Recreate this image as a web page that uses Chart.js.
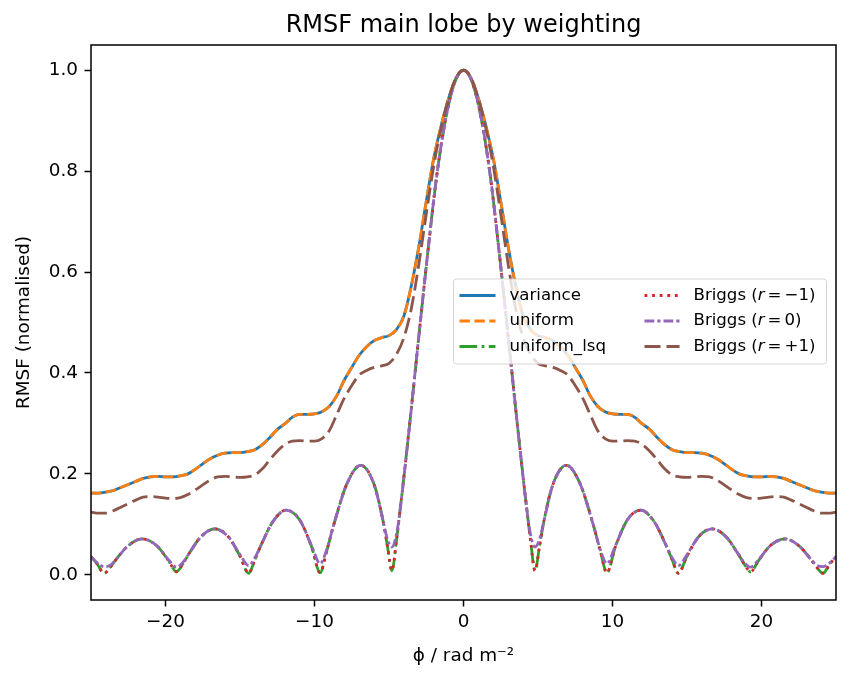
<!DOCTYPE html>
<html>
<head>
<meta charset="utf-8">
<script src="https://cdn.jsdelivr.net/npm/chart.js@4/dist/chart.umd.min.js"></script>
<style>
  html, body { margin: 0; padding: 0; background: #ffffff; }
  #wrap { width: 850px; height: 684px; }
</style>
</head>
<body>
<div id="wrap"><canvas id="c" width="850" height="684"></canvas></div>
<script>
// ---- data ----
const phiBroad = [-25,-24.5,-24,-23.5,-23,-22.5,-22,-21.5,-21,-20.5,-20,-19.5,-19,-18.5,-18,-17.5,-17,-16.5,-16,-15.5,-15,-14.5,-14,-13.5,-13,-12.5,-12,-11.5,-11,-10.5,-10,-9.5,-9,-8.5,-8,-7.5,-7,-6.5,-6,-5.5,-5,-4.5,-4,-3.5,-3,-2.5,-2,-1.5,-1,-0.5,0,0.5,1,1.5,2,2.5,3,3.5,4,4.5,5,5.5,6,6.5,7,7.5,8,8.5,9,9.5,10,10.5,11,11.5,12,12.5,13,13.5,14,14.5,15,15.5,16,16.5,17,17.5,18,18.5,19,19.5,20,20.5,21,21.5,22,22.5,23,23.5,24,24.5,25];

const varianceVals = [0.162,0.162,0.164,0.167,0.173,0.179,0.185,0.191,0.194,0.195,0.194,0.194,0.196,0.200,0.209,0.220,0.230,0.237,0.241,0.242,0.242,0.244,0.248,0.258,0.272,0.288,0.299,0.312,0.318,0.318,0.319,0.323,0.334,0.355,0.386,0.411,0.435,0.452,0.464,0.470,0.474,0.486,0.513,0.573,0.650,0.740,0.825,0.890,0.944,0.985,1.0,0.985,0.944,0.890,0.825,0.740,0.650,0.573,0.513,0.486,0.474,0.470,0.464,0.452,0.435,0.411,0.386,0.355,0.334,0.323,0.319,0.318,0.318,0.312,0.299,0.288,0.272,0.258,0.248,0.244,0.242,0.242,0.241,0.237,0.230,0.220,0.209,0.200,0.196,0.194,0.194,0.195,0.194,0.191,0.185,0.179,0.173,0.167,0.164,0.162,0.162];

const uniformVals = [0.162,0.162,0.164,0.167,0.173,0.179,0.185,0.191,0.194,0.195,0.194,0.194,0.196,0.200,0.209,0.220,0.230,0.237,0.241,0.242,0.242,0.244,0.248,0.258,0.272,0.288,0.299,0.312,0.318,0.318,0.319,0.323,0.334,0.355,0.386,0.411,0.435,0.452,0.464,0.470,0.474,0.486,0.513,0.573,0.650,0.740,0.825,0.890,0.944,0.985,1.0,0.985,0.944,0.890,0.825,0.740,0.650,0.573,0.513,0.486,0.474,0.470,0.464,0.452,0.435,0.411,0.386,0.355,0.334,0.323,0.319,0.318,0.318,0.312,0.299,0.288,0.272,0.258,0.248,0.244,0.242,0.242,0.241,0.237,0.230,0.220,0.209,0.200,0.196,0.194,0.194,0.195,0.194,0.191,0.185,0.179,0.173,0.167,0.164,0.162,0.162];

const briggsP1Vals = [0.124,0.122,0.122,0.127,0.134,0.141,0.148,0.154,0.155,0.154,0.152,0.151,0.153,0.159,0.168,0.178,0.188,0.194,0.195,0.194,0.193,0.194,0.198,0.21,0.228,0.245,0.258,0.265,0.266,0.265,0.265,0.27,0.286,0.318,0.35,0.375,0.396,0.405,0.411,0.414,0.419,0.437,0.47,0.528,0.615,0.715,0.81,0.885,0.943,0.985,1.0,0.985,0.943,0.885,0.81,0.715,0.615,0.528,0.47,0.437,0.419,0.414,0.411,0.405,0.396,0.375,0.35,0.318,0.286,0.27,0.265,0.265,0.266,0.265,0.258,0.245,0.228,0.21,0.198,0.194,0.193,0.194,0.195,0.194,0.188,0.178,0.168,0.159,0.153,0.151,0.152,0.154,0.155,0.154,0.148,0.141,0.134,0.127,0.122,0.122,0.124];

const phiNarrow = [-25,-24.6,-24.12,-23.7,-23.3,-22.6,-21.6,-20.6,-19.8,-19.26,-18.85,-18.4,-17.6,-16.7,-15.8,-15,-14.42,-14,-13.6,-12.8,-11.9,-11,-10.2,-9.62,-9.2,-8.7,-7.8,-6.9,-6,-5.4,-5.1,-4.8,-4.5,-4.2,-3.6,-3,-2.4,-1.8,-1.2,-0.6,0,0.6,1.2,1.8,2.4,3,3.6,4.2,4.5,4.8,5.1,5.4,6,6.9,7.8,8.7,9.2,9.62,10.2,11,11.9,12.8,13.6,14,14.42,15,15.8,16.7,17.6,18.4,18.85,19.26,19.8,20.6,21.6,22.6,23.3,23.7,24.12,24.6,25];

const uniformLsqVals = [0.036,0.022,0.003,0.015,0.031,0.055,0.071,0.058,0.028,0.006,0.021,0.043,0.076,0.091,0.076,0.037,0.003,0.03,0.058,0.105,0.128,0.109,0.056,0.004,0.045,0.1,0.182,0.217,0.179,0.107,0.056,0.008,0.068,0.142,0.302,0.472,0.638,0.79,0.903,0.975,1.0,0.975,0.903,0.79,0.638,0.472,0.302,0.142,0.068,0.008,0.056,0.107,0.179,0.217,0.182,0.1,0.045,0.004,0.056,0.109,0.128,0.105,0.058,0.03,0.003,0.037,0.076,0.091,0.076,0.043,0.021,0.006,0.028,0.058,0.071,0.055,0.031,0.015,0.003,0.022,0.036];

const briggsM1Vals = [0.036,0.022,0.003,0.015,0.031,0.055,0.071,0.058,0.028,0.006,0.021,0.043,0.076,0.091,0.076,0.037,0.003,0.03,0.058,0.105,0.128,0.109,0.056,0.004,0.045,0.1,0.182,0.217,0.179,0.107,0.056,0.008,0.068,0.142,0.302,0.472,0.638,0.79,0.903,0.975,1.0,0.975,0.903,0.79,0.638,0.472,0.302,0.142,0.068,0.008,0.056,0.107,0.179,0.217,0.182,0.1,0.045,0.004,0.056,0.109,0.128,0.105,0.058,0.03,0.003,0.037,0.076,0.091,0.076,0.043,0.021,0.006,0.028,0.058,0.071,0.055,0.031,0.015,0.003,0.022,0.036];

const briggs0Vals = [0.036,0.024,0.016,0.019,0.031,0.055,0.071,0.058,0.03,0.015,0.024,0.043,0.076,0.091,0.076,0.04,0.018,0.034,0.058,0.105,0.128,0.109,0.058,0.022,0.048,0.1,0.182,0.217,0.179,0.107,0.07,0.055,0.08,0.142,0.302,0.472,0.638,0.79,0.903,0.975,1.0,0.975,0.903,0.79,0.638,0.472,0.302,0.142,0.08,0.055,0.07,0.107,0.179,0.217,0.182,0.1,0.048,0.022,0.058,0.109,0.128,0.105,0.058,0.034,0.018,0.04,0.076,0.091,0.076,0.043,0.024,0.015,0.03,0.058,0.071,0.055,0.031,0.019,0.016,0.024,0.036];

const xTicks = [-20, -10, 0, 10, 20];
const yTicks = [0, 0.2, 0.4, 0.6, 0.8, 1.0];

const seriesNames = ['variance', 'uniform', 'uniform_lsq', 'Briggs (r = \u22121)', 'Briggs (r = 0)', 'Briggs (r = +1)'];

// ---- chart ----
const FONT = 'DejaVu Sans';
const LW = 2.8;

function pts(xs, ys) { return xs.map((x, i) => ({ x: x, y: ys[i] })); }

function ds(label, xs, ys, color, dash, order) {
  return {
    label: label,
    data: pts(xs, ys),
    borderColor: color,
    backgroundColor: color,
    borderWidth: LW,
    borderDash: dash,
    borderCapStyle: 'butt',
    borderJoinStyle: 'round',
    pointRadius: 0,
    fill: false,
    cubicInterpolationMode: 'monotone',
    order: order
  };
}

const datasets = [
  ds(seriesNames[0], phiBroad, varianceVals, '#1f77b4', [], 6),
  ds(seriesNames[1], phiBroad, uniformVals, '#ff7f0e', [10.4, 4.5], 5),
  ds(seriesNames[2], phiNarrow, uniformLsqVals, '#2ca02c', [17.7, 4.4, 2.8, 4.4], 4),
  ds(seriesNames[3], phiNarrow, briggsM1Vals, '#d62728', [2.8, 4.8], 3),
  ds(seriesNames[4], phiNarrow, briggs0Vals, '#9467bd', [9.8, 3, 3.2, 3], 2),
  ds(seriesNames[5], phiBroad, briggsP1Vals, '#8c564b', [16, 6], 1)
];

function fmtMinus(s) { return String(s).replace('-', '\u2212'); }

const frameLegend = {
  id: 'frameLegend',
  afterDatasetsDraw(chart) {
    const { ctx, chartArea: a } = chart;
    ctx.save();
    ctx.strokeStyle = '#000';
    ctx.lineWidth = 1.5;
    ctx.strokeRect(a.left, a.top, a.right - a.left, a.bottom - a.top);
    ctx.restore();
  },
  afterDraw(chart) {
    const { ctx, chartArea: a } = chart;
    const w = 373, h = 85, r = 3;
    const x0 = a.right - 9.5 - w;
    const y0 = (a.top + a.bottom) / 2 - h / 2 - 1;
    ctx.save();
    ctx.beginPath();
    ctx.moveTo(x0 + r, y0);
    ctx.lineTo(x0 + w - r, y0);
    ctx.arcTo(x0 + w, y0, x0 + w, y0 + r, r);
    ctx.lineTo(x0 + w, y0 + h - r);
    ctx.arcTo(x0 + w, y0 + h, x0 + w - r, y0 + h, r);
    ctx.lineTo(x0 + r, y0 + h);
    ctx.arcTo(x0, y0 + h, x0, y0 + h - r, r);
    ctx.lineTo(x0, y0 + r);
    ctx.arcTo(x0, y0, x0 + r, y0, r);
    ctx.closePath();
    ctx.fillStyle = 'rgba(255,255,255,0.8)';
    ctx.fill();
    ctx.strokeStyle = 'rgba(204,204,204,0.8)';
    ctx.lineWidth = 1;
    ctx.stroke();

    const rows = [y0 + 16.5, y0 + 42, y0 + 67.5];
    const cols = [{ l0: x0 + 6, l1: x0 + 42, t: x0 + 56 }, { l0: x0 + 191, l1: x0 + 226, t: x0 + 240 }];
    const fs = 16.6;
    chart.data.datasets.forEach((d, i) => {
      const c = cols[Math.floor(i / 3)];
      const y = rows[i % 3];
      ctx.beginPath();
      ctx.setLineDash(d.borderDash || []);
      ctx.lineDashOffset = 0;
      ctx.strokeStyle = d.borderColor;
      ctx.lineWidth = LW;
      ctx.lineCap = 'butt';
      ctx.moveTo(c.l0, y);
      ctx.lineTo(c.l1, y);
      ctx.stroke();
      ctx.setLineDash([]);
      ctx.fillStyle = '#000';
      ctx.textBaseline = 'middle';
      ctx.textAlign = 'left';
      if (i < 3) {
        ctx.font = fs + 'px "' + FONT + '"';
        ctx.fillText(d.label, c.t, y);
      } else {
        const tail = i === 3 ? '\u2212' + '1)' : (i === 4 ? '0)' : '+1)');
        let x = c.t;
        ctx.font = fs + 'px "' + FONT + '"';
        ctx.fillText('Briggs (', x, y); x += ctx.measureText('Briggs (').width;
        ctx.font = 'italic ' + fs + 'px "' + FONT + '"';
        ctx.fillText('r', x, y); x += ctx.measureText('r').width + 3;
        ctx.font = fs + 'px "' + FONT + '"';
        ctx.fillText('=', x, y); x += ctx.measureText('=').width + 3;
        ctx.fillText(tail, x, y);
      }
    });
    ctx.restore();
  }
};

new Chart(document.getElementById('c'), {
  type: 'line',
  data: { datasets: datasets },
  plugins: [frameLegend],
  options: {
    responsive: false,
    devicePixelRatio: 1,
    animation: false,
    layout: { padding: { left: 0, right: 14, top: 0, bottom: 0 } },
    plugins: {
      legend: { display: false },
      tooltip: { enabled: false },
      title: {
        display: true,
        fullSize: false,
        text: 'RMSF main lobe by weighting',
        color: '#000',
        font: { family: FONT, size: 24, weight: 'normal', lineHeight: 1.2 },
        padding: { top: 11, bottom: 5.2 }
      }
    },
    scales: {
      x: {
        type: 'linear',
        min: -25, max: 25,
        afterBuildTicks: s => { s.ticks = xTicks.map(v => ({ value: v })); },
        afterFit: s => { s.height = 84; },
        ticks: {
          color: '#000',
          font: { family: FONT, size: 18.4 },
          padding: 5,
          maxRotation: 0,
          autoSkip: false,
          callback: v => fmtMinus(v)
        },
        grid: { display: true, drawOnChartArea: false, drawTicks: true, tickLength: 6.5, tickWidth: 1.5, tickColor: '#000', color: '#000' },
        border: { display: false },
        title: {
          display: true,
          text: '\u03D5 / rad m\u207B\u00B2',
          color: '#000',
          font: { family: FONT, size: 18.4, lineHeight: 1.2 },
          padding: { top: 0, bottom: 17 }
        }
      },
      y: {
        type: 'linear',
        min: -0.05, max: 1.05,
        afterBuildTicks: s => { s.ticks = yTicks.map(v => ({ value: v })); },
        afterFit: s => { s.width = 91; },
        ticks: {
          color: '#000',
          font: { family: FONT, size: 18.4 },
          padding: 6.5,
          autoSkip: false,
          callback: v => Number(v).toFixed(1)
        },
        grid: { display: true, drawOnChartArea: false, drawTicks: true, tickLength: 6.5, tickWidth: 1.5, tickColor: '#000', color: '#000' },
        border: { display: false },
        title: {
          display: true,
          text: 'RMSF (normalised)',
          color: '#000',
          font: { family: FONT, size: 18.4, lineHeight: 1.2 },
          padding: { top: 13, bottom: 0 }
        }
      }
    }
  }
});
</script>
</body>
</html>
